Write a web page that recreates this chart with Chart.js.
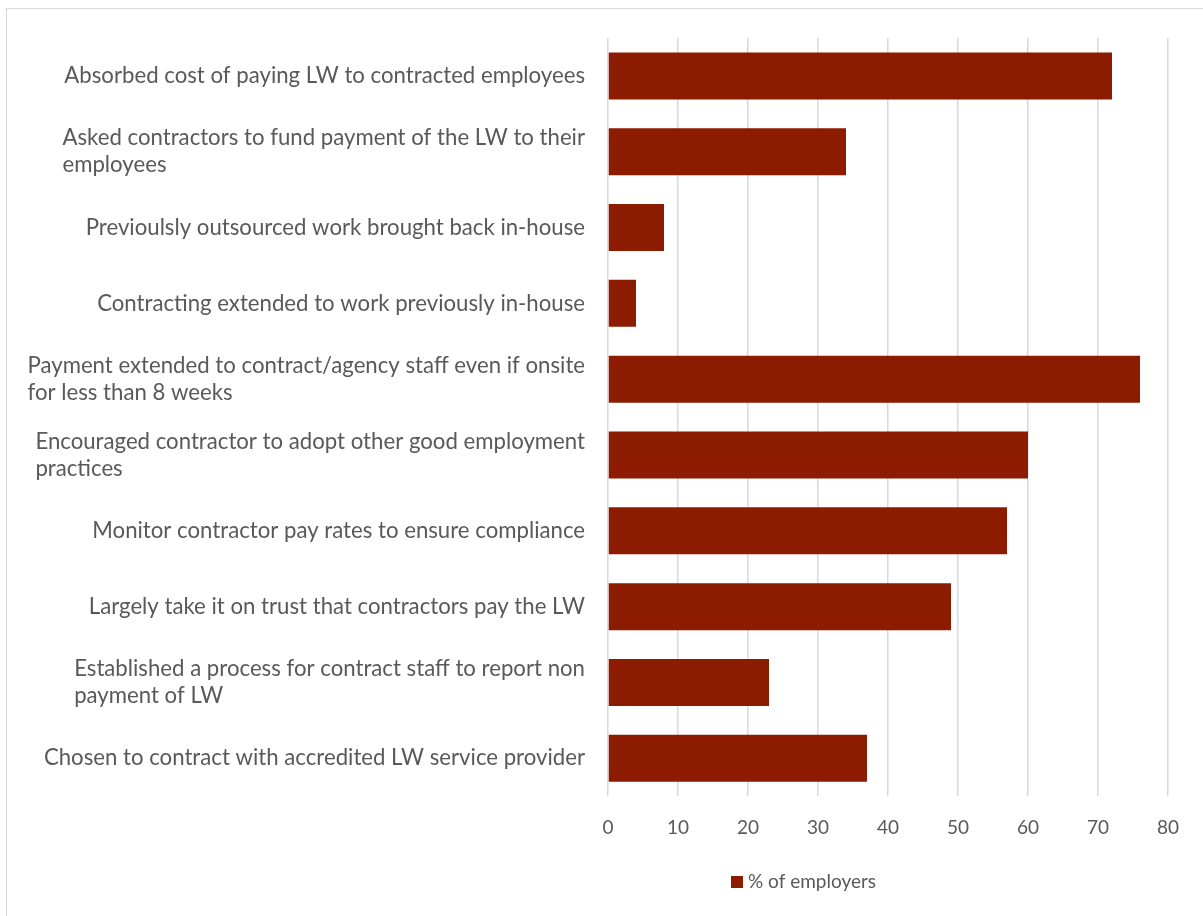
<!DOCTYPE html>
<html>
<head>
<meta charset="utf-8">
<script src="https://cdn.jsdelivr.net/npm/chart.js@4"></script>
<style>
  body { margin: 0; background: #fff; }
  #frame {
    position: absolute; left: 6px; top: 8px;
    width: 1210px; height: 920px;
    border: 1px solid #d9d9d9; box-sizing: border-box;
  }
  #wrap { position: absolute; left: 0; top: 0; width: 1203px; height: 916px; }
</style>
</head>
<body>
<div id="frame"></div>
<div id="wrap"><canvas id="myChart"></canvas></div>
<script>
const categories = [
  "Absorbed cost of paying LW to contracted employees",
  ["Asked contractors to fund payment of the LW to their", "employees"],
  "Previoulsly outsourced work brought back in-house",
  "Contracting extended to work previously in-house",
  ["Payment extended to contract/agency staff even if onsite", "for less than 8 weeks"],
  ["Encouraged contractor to adopt other good employment", "practices"],
  "Monitor contractor pay rates to ensure compliance",
  "Largely take it on trust that contractors pay the LW",
  ["Established a process for contract staff to report non", "payment of LW"],
  "Chosen to contract with accredited LW service provider",
];

const employers = [72, 34, 8, 4, 76, 60, 57, 49, 23, 37];

const xTicks = [0, 10, 20, 30, 40, 50, 60, 70, 80];

const textColor = "#595959";
const fontFamily = "Lato, 'Open Sans', sans-serif";

// category labels: block right-aligned to the axis, lines left-aligned inside it
const categoryLabels = {
  id: "categoryLabels",
  afterDraw(chart) {
    const { ctx, scales: { y }, chartArea: { left } } = chart;
    ctx.save();
    ctx.font = "22.2px " + fontFamily;
    ctx.fillStyle = textColor;
    ctx.textAlign = "left";
    ctx.textBaseline = "middle";
    const lineHeight = 27;
    chart.data.labels.forEach((label, i) => {
      const lines = Array.isArray(label) ? label : [label];
      const blockWidth = Math.max(...lines.map((l) => ctx.measureText(l).width));
      const x = left - 23 - blockWidth;
      const yc = y.getPixelForValue(i);
      const y0 = yc - ((lines.length - 1) * lineHeight) / 2;
      lines.forEach((line, j) => {
        ctx.fillText(line, x, y0 + j * lineHeight);
      });
    });
    ctx.restore();
  },
};

// legend under the axis, a bit left of the plot centre
const seriesLegend = {
  id: "seriesLegend",
  afterDraw(chart) {
    const { ctx } = chart;
    const ds = chart.data.datasets[0];
    const x = 731;
    const y = 882;
    ctx.save();
    ctx.fillStyle = ds.backgroundColor;
    ctx.fillRect(x, y - 6, 12, 12);
    ctx.font = "19px " + fontFamily;
    ctx.fillStyle = textColor;
    ctx.textBaseline = "middle";
    ctx.fillText(ds.label, x + 17, y);
    ctx.restore();
  },
};

const config = {
  type: "bar",
  data: {
    labels: categories,
    datasets: [
      {
        label: "% of employers",
        data: employers,
        backgroundColor: "#8c1b00",
        borderWidth: 0,
        categoryPercentage: 1,
        barPercentage: 0.62,
      },
    ],
  },
  options: {
    indexAxis: "y",
    responsive: true,
    maintainAspectRatio: false,
    animation: false,
    layout: {
      padding: { top: 38, right: 35, bottom: 57, left: 0 },
    },
    plugins: {
      legend: { display: false },
      tooltip: { enabled: false },
    },
    scales: {
      x: {
        min: 0,
        max: 80,
        afterBuildTicks: (scale) => {
          scale.ticks = xTicks.map((v) => ({ value: v }));
        },
        grid: {
          color: "#d9d9d9",
          lineWidth: 1.5,
          drawTicks: false,
        },
        border: { display: false },
        ticks: {
          color: textColor,
          font: { family: fontFamily, size: 19 },
          padding: 20,
        },
      },
      y: {
        grid: { display: false },
        border: { display: false },
        ticks: { display: false },
        afterFit: (scale) => {
          scale.width = 608;
        },
      },
    },
  },
  plugins: [categoryLabels, seriesLegend],
};

const myChart = new Chart(document.getElementById("myChart"), config);
</script>
</body>
</html>
